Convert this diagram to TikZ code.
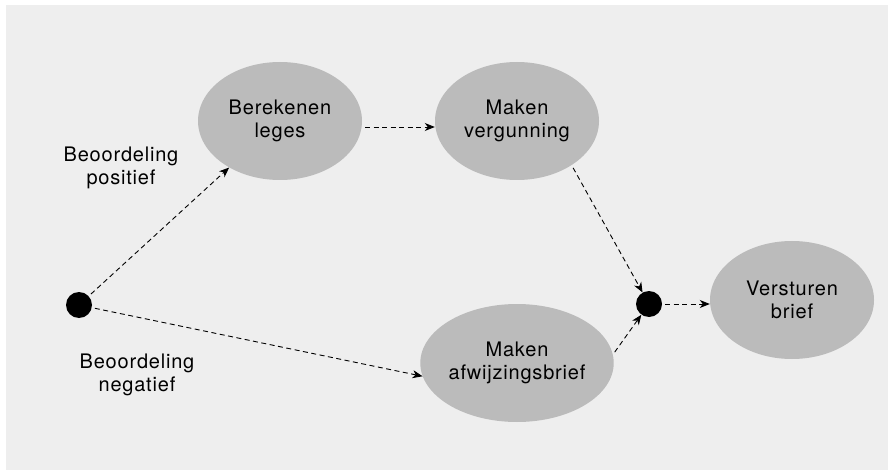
\documentclass[tikz,border=0pt]{standalone}
\usepackage{fontspec}
\setmainfont{TeX Gyre Heros}[LetterSpace=4]
\usetikzlibrary{arrows.meta,shapes.geometric}
\definecolor{bggray}{HTML}{EEEEEE}
\definecolor{actgray}{HTML}{BBBBBB}
\begin{document}
\begin{tikzpicture}[x=1pt,y=-1pt,
  act/.style={ellipse, fill=actgray, minimum width=164pt, minimum height=118pt, inner sep=0pt, align=center, font=\fontsize{20}{23}\selectfont},
  lbl/.style={align=center, font=\fontsize{20}{23}\selectfont},
  junction/.style={circle, fill=black, minimum size=26pt, inner sep=0pt},
  flow/.style={-{Stealth[length=10pt,width=8pt,inset=3pt]}, dash pattern=on 5pt off 3.5pt, line width=0.9pt, shorten <=3pt}]
\useasboundingbox (0,0) rectangle (888,470);
\fill[bggray] (6,5) rectangle (888,470);
\node[junction] (jn0) at (79,305){};
\node[act] (act0) at (280,121){Berekenen\\leges};
\node[act] (act1) at (517,121){Maken\\vergunning};
\node[act] (act2) at (517,363){Maken\\afwijzingsbrief};
\node[junction] (jn1) at (649,304){};
\node[act] (act3) at (792,300){Versturen\\brief};
\node[lbl] (lbl0) at (121,168){Beoordeling\\positief};
\node[lbl] (lbl1) at (137,375){Beoordeling\\negatief};
\draw[flow] (jn0) -- (act0);
\draw[flow] (jn0) -- (act2.188);
\draw[flow] ([yshift=-6pt]act0.east) -- ([yshift=-6pt]act1.west);
\draw[flow] (act1.-39) -- (jn1);
\draw[flow] (act2.5) -- (jn1);
\draw[flow] (jn1) -- (jn1 -| act3.west);
\end{tikzpicture}
\end{document}
